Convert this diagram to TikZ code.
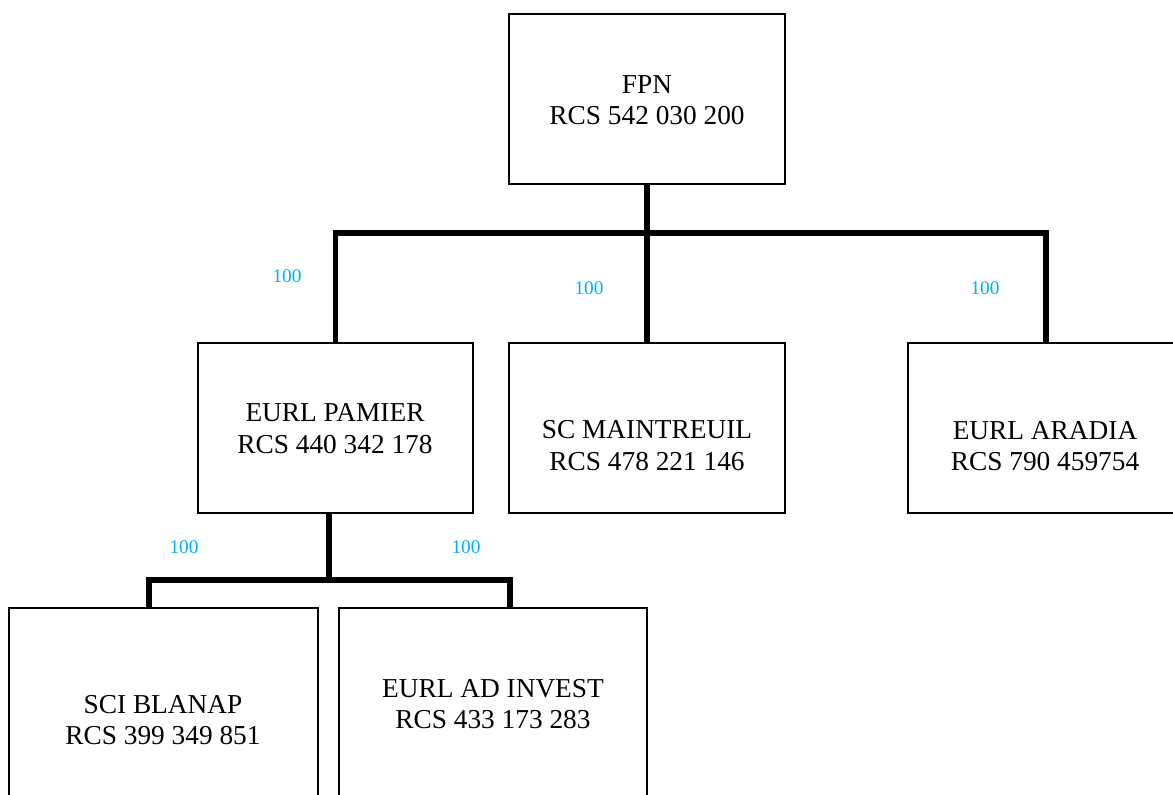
\documentclass[tikz,border=0pt]{standalone}
\usepackage{fontspec}
\setmainfont{Liberation Serif}
\definecolor{pct}{RGB}{0,176,240}
\begin{document}
\begin{tikzpicture}[x=0.75pt,y=-0.75pt,
  box/.style={draw=black,line width=1.3pt,fill=white,rectangle,inner sep=0pt},
  txt/.style={align=center,font=\fontsize{20.5}{23.4}\selectfont,inner sep=0pt},
  pctlab/.style={text=pct,font=\fontsize{14.5}{17}\selectfont,inner sep=0pt},
  conn/.style={draw=black,line width=3.8pt}]
\useasboundingbox (0,0) rectangle (1173,794);
\clip (0,0) rectangle (1173,794);
% boxes
\node[box,minimum width=207pt,minimum height=127.5pt] (fpn) at (647,99) {};
\node[box,minimum width=206.25pt,minimum height=127.5pt] (pamier) at (335.5,428) {};
\node[box,minimum width=207pt,minimum height=127.5pt] (maint) at (647,428) {};
\node[box,minimum width=207pt,minimum height=127.5pt] (aradia) at (1046,428) {};
\node[box,minimum width=231.75pt,minimum height=166.5pt] (blanap) at (163.5,719) {};
\node[box,minimum width=231pt,minimum height=166.5pt] (adinv) at (493,719) {};
% texts
\node[txt] (tfpn) at (647,100.5) {FPN\\RCS 542 030 200};
\node[txt] (tpamier) at (335,428.5) {EURL PAMIER\\RCS 440 342 178};
\node[txt] (tmaint) at (647,445.5) {SC MAINTREUIL\\RCS 478 221 146};
\node[txt] (taradia) at (1045,446) {EURL ARADIA\\RCS 790 459754};
\node[txt] (tblanap) at (163,720) {SCI BLANAP\\RCS 399 349 851};
\node[txt] (tadinv) at (493,704) {EURL AD INVEST\\RCS 433 173 283};
% connectors
\coordinate (bar) at (647,233);
\draw[conn] (fpn.south) -- (bar);
\draw[conn] (bar) -| (pamier.north);
\draw[conn] (bar) -- (maint.north);
\draw[conn] (bar) -| (aradia.north);
\coordinate (bar2) at (329,580);
\coordinate (pamb) at (329,513);
\draw[conn] (pamb) -- (bar2);
\draw[conn] (bar2) -| ([xshift=-10.9pt]blanap.north);
\draw[conn] (bar2) -| ([xshift=12.75pt]adinv.north);
% percentages
\node[pctlab] (p1) at (287,276) {100};
\node[pctlab] (p2) at (589,288) {100};
\node[pctlab] (p3) at (985,288) {100};
\node[pctlab] (p4) at (184,547) {100};
\node[pctlab] (p5) at (466,547) {100};
\end{tikzpicture}
\end{document}
